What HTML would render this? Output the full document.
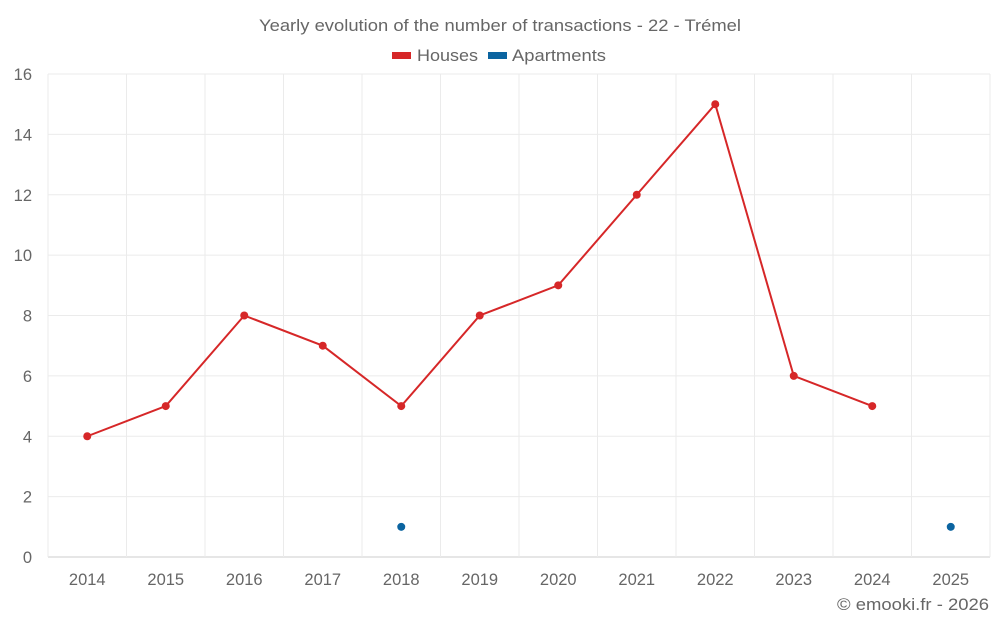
<!DOCTYPE html>
<html><head><meta charset="utf-8"><style>
html,body{margin:0;padding:0;background:#fff;}
svg{display:block;font-family:"Liberation Sans",sans-serif;}
</style></head><body>
<svg id="chart" width="1000" height="625" viewBox="0 0 1000 625">
<text x="259" y="31" textLength="482" lengthAdjust="spacingAndGlyphs" font-size="16.5" fill="#666">Yearly evolution of the number of transactions - 22 - Trémel</text>
<g>
<g><rect x="392" y="52" width="19" height="7" fill="#d62728"/><text x="417" y="61" textLength="61" lengthAdjust="spacingAndGlyphs" font-size="16.5" fill="#666">Houses</text></g>
<g><rect x="488" y="52" width="19" height="7" fill="#0b64a0"/><text x="512" y="61" textLength="94" lengthAdjust="spacingAndGlyphs" font-size="16.5" fill="#666">Apartments</text></g>
</g>
<g id="grid"></g>
<g id="axes"></g>
<g id="series"></g>
<text x="837" y="610" textLength="152" lengthAdjust="spacingAndGlyphs" font-size="16.5" fill="#666">© emooki.fr - 2026</text>
</svg>
<script>
const categories=["2014","2015","2016","2017","2018","2019","2020","2021","2022","2023","2024","2025"];
const houses=[4,5,8,7,5,8,9,12,15,6,5,null];
const apartments=[null,null,null,null,1,null,null,null,null,null,null,1];
const yTicks=[0,2,4,6,8,10,12,14,16];
const L=48,R=990,T=74,B=557,yMax=16;
const bw=(R-L)/categories.length;
const x=i=>L+bw*(i+0.5);
const y=v=>B-(v/yMax)*(B-T);
const NS="http://www.w3.org/2000/svg";
function mk(tag,attrs,parent){const e=document.createElementNS(NS,tag);for(const k in attrs)e.setAttribute(k,attrs[k]);parent.appendChild(e);return e;}
const grid=document.getElementById('grid'),axes=document.getElementById('axes'),series=document.getElementById('series');
yTicks.forEach(t=>{
  const l=mk('line',{x1:L,x2:R,y1:y(t),y2:y(t),stroke:t===0?'#ccc':'#ebebeb','stroke-width':1},grid);
  
  
  const tx=mk('text',{x:32,y:y(t)+6,'text-anchor':'end','font-size':16.5,fill:'#666'},axes);
  tx.textContent=t;
  
  
});
for(let i=0;i<=categories.length;i++){
  const l=mk('line',{x1:L+bw*i,x2:L+bw*i,y1:T,y2:B,stroke:'#ebebeb','stroke-width':1},grid);
  
  
}
categories.forEach((c,i)=>{
  const tx=mk('text',{x:x(i),y:585,'text-anchor':'middle','font-size':16.5,fill:'#666'},axes);
  tx.textContent=c;
  
  
});
function draw(data,color,name){
  let d='',pen=false;
  data.forEach((v,i)=>{if(v==null){pen=false;return;}d+=(pen?'L':'M')+x(i)+','+y(v);pen=true;});
  if(d){const p=mk('path',{d:d,fill:'none',stroke:color,'stroke-width':2},series);
  
  }
  data.forEach((v,i)=>{if(v==null)return;
    const c=mk('circle',{cx:x(i),cy:y(v),r:4,fill:color},series);
    
    });
}
draw(houses,'#d62728','houses');
draw(apartments,'#0b64a0','apartments');
</script>
</body></html>
